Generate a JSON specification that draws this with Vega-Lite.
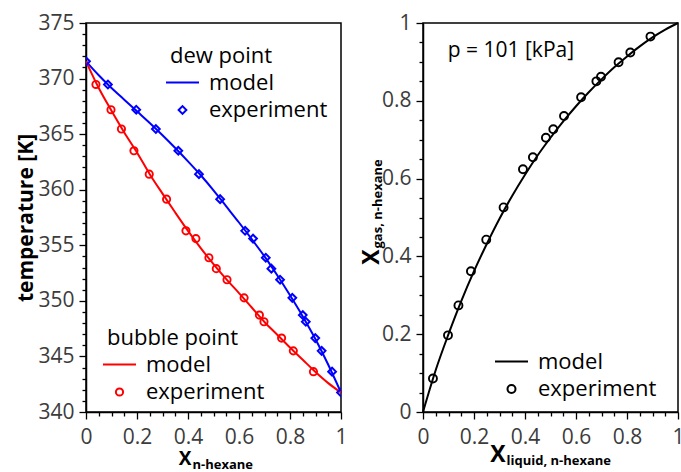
{
  "$schema": "https://vega.github.io/schema/vega-lite/v6.json",
  "padding": {"left": 14, "top": 11, "right": 0, "bottom": 0},
  "config": {
    "font": "Open Sans",
    "view": {"stroke": "#000000", "strokeWidth": 1.5},
    "axis": {
      "grid": false,
      "domainColor": "#000000",
      "domainWidth": 1.5,
      "tickColor": "#000000",
      "tickWidth": 1.3,
      "labelFont": "Open Sans",
      "labelFontSize": 21,
      "labelColor": "#3c3c3c",
      "labelOverlap": false,
      "labelFlush": false,
      "labelBound": false,
      "titleFont": "Open Sans",
      "titleColor": "#000000",
      "titleFontWeight": "bold"
    },
    "legend": {
      "orient": "none",
      "padding": 0,
      "labelFont": "Open Sans",
      "labelFontSize": 22,
      "labelColor": "#000000",
      "labelOffset": 9,
      "symbolOffset": -5,
      "titleFont": "Open Sans",
      "titleFontSize": 22,
      "titleFontWeight": "normal",
      "titleColor": "#000000",
      "titlePadding": -3,
      "rowPadding": 5,
      "symbolStrokeWidth": 2,
      "symbolOpacity": 1,
      "symbolFillColor": "transparent"
    }
  },
  "datasets": {
    "experiment": [
      {"T": 371.55, "x_liq": 0, "y_gas": 0},
      {"T": 369.47, "x_liq": 0.039, "y_gas": 0.086},
      {"T": 367.2, "x_liq": 0.098, "y_gas": 0.197},
      {"T": 365.46, "x_liq": 0.139, "y_gas": 0.274},
      {"T": 363.5, "x_liq": 0.188, "y_gas": 0.362},
      {"T": 361.4, "x_liq": 0.248, "y_gas": 0.443},
      {"T": 359.15, "x_liq": 0.316, "y_gas": 0.526},
      {"T": 356.3, "x_liq": 0.392, "y_gas": 0.624},
      {"T": 355.6, "x_liq": 0.431, "y_gas": 0.655},
      {"T": 353.88, "x_liq": 0.482, "y_gas": 0.705},
      {"T": 352.9, "x_liq": 0.511, "y_gas": 0.727},
      {"T": 351.9, "x_liq": 0.553, "y_gas": 0.761},
      {"T": 350.27, "x_liq": 0.62, "y_gas": 0.809},
      {"T": 348.72, "x_liq": 0.68, "y_gas": 0.85},
      {"T": 348.12, "x_liq": 0.698, "y_gas": 0.862},
      {"T": 346.65, "x_liq": 0.767, "y_gas": 0.899},
      {"T": 345.5, "x_liq": 0.813, "y_gas": 0.924},
      {"T": 343.63, "x_liq": 0.892, "y_gas": 0.965},
      {"T": 341.75, "x_liq": 1, "y_gas": 1}
    ],
    "model_txy": [
      {"x": 0, "T_dew": 371.55, "T_bubble": 371.55},
      {"x": 0.05, "T_dew": 370.3, "T_bubble": 369.15},
      {"x": 0.1, "T_dew": 369.15, "T_bubble": 367.1},
      {"x": 0.15, "T_dew": 368.1, "T_bubble": 365.15},
      {"x": 0.2, "T_dew": 367.05, "T_bubble": 363.35},
      {"x": 0.25, "T_dew": 366.0, "T_bubble": 361.4},
      {"x": 0.3, "T_dew": 364.9, "T_bubble": 359.65},
      {"x": 0.35, "T_dew": 363.75, "T_bubble": 357.95},
      {"x": 0.4, "T_dew": 362.55, "T_bubble": 356.3},
      {"x": 0.45, "T_dew": 361.3, "T_bubble": 354.75},
      {"x": 0.5, "T_dew": 359.95, "T_bubble": 353.3},
      {"x": 0.55, "T_dew": 358.5, "T_bubble": 351.95},
      {"x": 0.6, "T_dew": 357.05, "T_bubble": 350.7},
      {"x": 0.65, "T_dew": 355.55, "T_bubble": 349.4},
      {"x": 0.7, "T_dew": 354.0, "T_bubble": 348.1},
      {"x": 0.75, "T_dew": 352.3, "T_bubble": 346.95},
      {"x": 0.8, "T_dew": 350.5, "T_bubble": 345.8},
      {"x": 0.85, "T_dew": 348.6, "T_bubble": 344.7},
      {"x": 0.9, "T_dew": 346.55, "T_bubble": 343.6},
      {"x": 0.95, "T_dew": 344.25, "T_bubble": 342.6},
      {"x": 1, "T_dew": 341.75, "T_bubble": 341.75}
    ],
    "model_xy": [
      {"x_liq": 0, "y_gas": 0},
      {"x_liq": 0.05, "y_gas": 0.108},
      {"x_liq": 0.1, "y_gas": 0.2},
      {"x_liq": 0.15, "y_gas": 0.285},
      {"x_liq": 0.2, "y_gas": 0.362},
      {"x_liq": 0.25, "y_gas": 0.432},
      {"x_liq": 0.3, "y_gas": 0.497},
      {"x_liq": 0.35, "y_gas": 0.556},
      {"x_liq": 0.4, "y_gas": 0.61},
      {"x_liq": 0.45, "y_gas": 0.66},
      {"x_liq": 0.5, "y_gas": 0.705},
      {"x_liq": 0.55, "y_gas": 0.747},
      {"x_liq": 0.6, "y_gas": 0.786},
      {"x_liq": 0.65, "y_gas": 0.822},
      {"x_liq": 0.7, "y_gas": 0.855},
      {"x_liq": 0.75, "y_gas": 0.886},
      {"x_liq": 0.8, "y_gas": 0.914},
      {"x_liq": 0.85, "y_gas": 0.94},
      {"x_liq": 0.9, "y_gas": 0.963},
      {"x_liq": 0.95, "y_gas": 0.983},
      {"x_liq": 1, "y_gas": 1}
    ],
    "notes": [{"note": "p = 101 [kPa]"}]
  },
  "bounds": "flush",
  "spacing": 82,
  "resolve": {"scale": {"shape": "independent", "size": "independent"}},
  "hconcat": [
    {
      "width": 255,
      "height": 389,
      "resolve": {
        "scale": {"shape": "independent", "size": "independent"},
        "axis": {"x": "independent", "y": "independent"}
      },
      "layer": [
        {
          "data": {"name": "model_txy"},
          "mark": {"type": "line", "color": "#0000ff", "strokeWidth": 2, "interpolate": "monotone"},
          "encoding": {
            "x": {
              "field": "x", "type": "quantitative",
              "scale": {"domain": [0, 1], "nice": false},
              "axis": {
                "orient": "bottom",
                "values": [0, 0.2, 0.4, 0.6, 0.8, 1],
                "format": "~g",
                "tickSize": 7,
                "labelPadding": 7,
                "title": "X",
                "titleFontSize": 19,
                "titleAlign": "right",
                "titleBaseline": "alphabetic",
                "titleX": 105,
                "titleY": 52
              }
            },
            "y": {
              "field": "T_dew", "type": "quantitative",
              "scale": {"domain": [340, 375], "nice": false, "zero": false},
              "axis": {
                "orient": "left",
                "values": [340, 345, 350, 355, 360, 365, 370, 375],
                "tickSize": 7,
                "labelPadding": 5,
                "title": "temperature [K]",
                "titleFontSize": 21,
                "titleAngle": 270,
                "titleAlign": "center",
                "titleBaseline": "alphabetic",
                "titleX": -54,
                "titleY": 194.5
              }
            }
          }
        },
        {
          "data": {"name": "model_txy"},
          "mark": {"type": "line", "color": "#ff0000", "strokeWidth": 2, "interpolate": "monotone"},
          "encoding": {
            "x": {"field": "x", "type": "quantitative", "axis": null},
            "y": {
              "field": "T_bubble", "type": "quantitative",
              "axis": {
                "orient": "left",
                "values": [341, 342, 343, 344, 346, 347, 348, 349, 351, 352, 353, 354, 356, 357, 358, 359, 361, 362, 363, 364, 366, 367, 368, 369, 371, 372, 373, 374],
                "tickSize": 4,
                "labels": false,
                "domain": false,
                "title": null
              }
            }
          }
        },
        {
          "data": {"name": "experiment"},
          "mark": {"type": "point", "filled": false, "color": "#0000ff", "opacity": 1, "strokeWidth": 2, "clip": true},
          "encoding": {
            "x": {
              "field": "y_gas", "type": "quantitative",
              "axis": {
                "orient": "bottom",
                "values": [0.05, 0.1, 0.15, 0.25, 0.3, 0.35, 0.45, 0.5, 0.55, 0.65, 0.7, 0.75, 0.85, 0.9, 0.95],
                "tickSize": 4,
                "labels": false,
                "domain": false,
                "title": "n-hexane",
                "titleFontSize": 13,
                "titleAlign": "left",
                "titleBaseline": "alphabetic",
                "titleX": 106,
                "titleY": 56
              }
            },
            "y": {"field": "T", "type": "quantitative", "axis": null},
            "shape": {
              "datum": "experiment", "type": "nominal",
              "scale": {"domain": ["model", "experiment"], "range": ["stroke", "diamond"]},
              "legend": {"title": "dew point", "legendX": 84, "legendY": 23, "symbolStrokeColor": "#0000ff"}
            },
            "size": {
              "datum": "experiment", "type": "nominal",
              "scale": {"type": "ordinal", "domain": ["model", "experiment"], "range": [1089, 60]},
              "legend": {"title": "dew point", "legendX": 84, "legendY": 23, "symbolStrokeColor": "#0000ff"}
            }
          }
        },
        {
          "data": {"name": "experiment"},
          "transform": [{"filter": "datum.x_liq > 0 && datum.x_liq < 1"}],
          "mark": {"type": "point", "filled": false, "color": "#ff0000", "opacity": 1, "strokeWidth": 1.9, "clip": true},
          "encoding": {
            "x": {"field": "x_liq", "type": "quantitative", "axis": null},
            "y": {"field": "T", "type": "quantitative", "axis": null},
            "shape": {
              "datum": "experiment", "type": "nominal",
              "scale": {"domain": ["model", "experiment"], "range": ["stroke", "circle"]},
              "legend": {"title": "bubble point", "legendX": 21, "legendY": 305, "symbolStrokeColor": "#ff0000"}
            },
            "size": {
              "datum": "experiment", "type": "nominal",
              "scale": {"type": "ordinal", "domain": ["model", "experiment"], "range": [1089, 52]},
              "legend": {"title": "bubble point", "legendX": 21, "legendY": 305, "symbolStrokeColor": "#ff0000"}
            }
          }
        }
      ]
    },
    {
      "width": 255,
      "height": 389,
      "resolve": {"axis": {"x": "independent", "y": "independent"}},
      "layer": [
        {
          "data": {"name": "model_xy"},
          "mark": {"type": "line", "color": "#000000", "strokeWidth": 2, "interpolate": "monotone"},
          "encoding": {
            "x": {
              "field": "x_liq", "type": "quantitative",
              "scale": {"domain": [0, 1], "nice": false},
              "axis": {
                "orient": "bottom",
                "values": [0, 0.2, 0.4, 0.6, 0.8, 1],
                "format": "~g",
                "tickSize": 7,
                "labelPadding": 7,
                "title": "X",
                "titleFontSize": 23,
                "titleAlign": "right",
                "titleBaseline": "alphabetic",
                "titleX": 82,
                "titleY": 49
              }
            },
            "y": {
              "field": "y_gas", "type": "quantitative",
              "scale": {"domain": [0, 1], "nice": false},
              "axis": {
                "orient": "left",
                "values": [0, 0.2, 0.4, 0.6, 0.8, 1],
                "format": "~g",
                "tickSize": 7,
                "labelPadding": 5,
                "title": "X",
                "titleFontSize": 23,
                "titleAngle": 270,
                "titleAlign": "right",
                "titleBaseline": "alphabetic",
                "titleX": -45,
                "titleY": 226
              }
            }
          }
        },
        {
          "data": {"name": "experiment"},
          "transform": [{"filter": "datum.x_liq > 0 && datum.x_liq < 1"}],
          "mark": {"type": "point", "filled": false, "color": "#000000", "opacity": 1, "strokeWidth": 1.9},
          "encoding": {
            "x": {
              "field": "x_liq", "type": "quantitative",
              "axis": {
                "orient": "bottom",
                "values": [0.05, 0.1, 0.15, 0.25, 0.3, 0.35, 0.45, 0.5, 0.55, 0.65, 0.7, 0.75, 0.85, 0.9, 0.95],
                "tickSize": 4,
                "labels": false,
                "domain": false,
                "title": "liquid, n-hexane",
                "titleFontSize": 13,
                "titleAlign": "left",
                "titleBaseline": "alphabetic",
                "titleX": 83,
                "titleY": 52
              }
            },
            "y": {
              "field": "y_gas", "type": "quantitative",
              "axis": {
                "orient": "left",
                "values": [0.05, 0.1, 0.15, 0.25, 0.3, 0.35, 0.45, 0.5, 0.55, 0.65, 0.7, 0.75, 0.85, 0.9, 0.95],
                "tickSize": 4,
                "labels": false,
                "domain": false,
                "title": "gas, n-hexane",
                "titleFontSize": 13,
                "titleAngle": 270,
                "titleAlign": "left",
                "titleBaseline": "alphabetic",
                "titleX": -42,
                "titleY": 225
              }
            },
            "shape": {
              "datum": "experiment", "type": "nominal",
              "scale": {"domain": ["model", "experiment"], "range": ["stroke", "circle"]},
              "legend": {"title": null, "legendX": 76, "legendY": 321, "symbolStrokeColor": "#000000"}
            },
            "size": {
              "datum": "experiment", "type": "nominal",
              "scale": {"type": "ordinal", "domain": ["model", "experiment"], "range": [1089, 64]},
              "legend": {"title": null, "legendX": 76, "legendY": 321, "symbolStrokeColor": "#000000"}
            }
          }
        },
        {
          "data": {"name": "notes"},
          "mark": {"type": "text", "align": "left", "baseline": "middle", "fontSize": 21, "color": "#000000"},
          "encoding": {
            "x": {"datum": 0.097, "type": "quantitative", "axis": null},
            "y": {"datum": 0.928, "type": "quantitative", "axis": null},
            "text": {"field": "note"}
          }
        }
      ]
    }
  ]
}
